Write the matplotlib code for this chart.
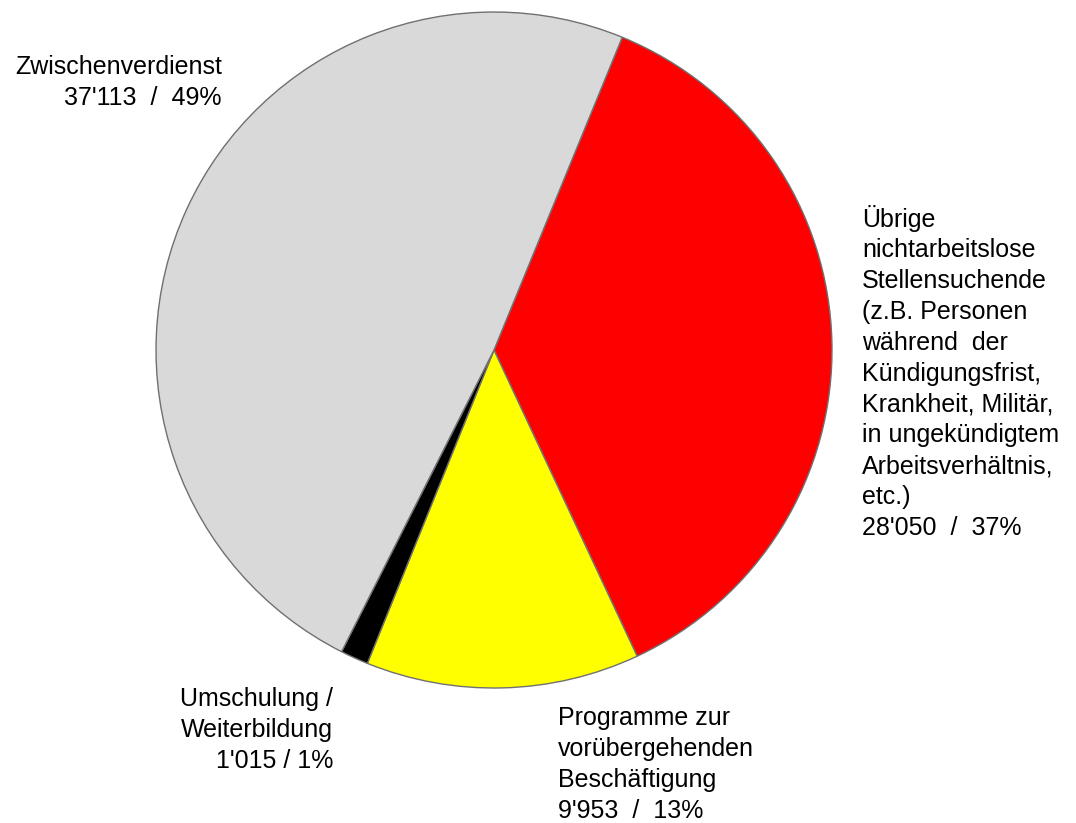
import matplotlib.pyplot as plt

plt.rcParams['font.family'] = ['Liberation Sans', 'DejaVu Sans']

# Daten (im Uhrzeigersinn ab der Oberkante rechts)
labels = ["Übrige\nnichtarbeitslose\nStellensuchende\n(z.B. Personen\nwährend  der\nKündigungsfrist,\nKrankheit, Militär,\nin ungekündigtem\nArbeitsverhältnis,\netc.)",
          "Programme zur\nvorübergehenden\nBeschäftigung",
          "Umschulung /\nWeiterbildung",
          "Zwischenverdienst"]
werte = [28050, 9953, 1015, 37113]
trenner = ["  /  ", "  /  ", " / ", "  /  "]
farben = ["#FF0000", "#FFFF00", "#000000", "#D9D9D9"]

W, H = 1076, 823
fig = plt.figure(figsize=(W / 100, H / 100), dpi=100)
ax = fig.add_axes([0, 0, 1, 1])

ax.pie(werte, colors=farben, startangle=67.7, counterclock=False,
       center=(494, H - 350), radius=338,
       wedgeprops=dict(edgecolor="#707070", linewidth=1.0))
ax.set_xlim(0, W)
ax.set_ylim(0, H)
ax.axis("off")

gesamt = sum(werte)
def fmt(v, t):
    return "{:,}".format(v).replace(",", "'") + t + "{:.0f}%".format(v / gesamt * 100)

fs = 18
ls = 1.36
# Position (Grundlinie der letzten Zeile), Ausrichtung der Beschriftungen
pos = [(862, 535, "left"), (558, 818, "left"), (333, 768, "right"), (222, 105, "right")]
for lab, v, t, (x, y, ha) in zip(labels, werte, trenner, pos):
    ax.text(x, H - y, lab + "\n" + fmt(v, t), ha=ha, va="baseline", fontsize=fs,
            linespacing=ls, multialignment=ha)

fig.savefig("out.png", dpi=100)
